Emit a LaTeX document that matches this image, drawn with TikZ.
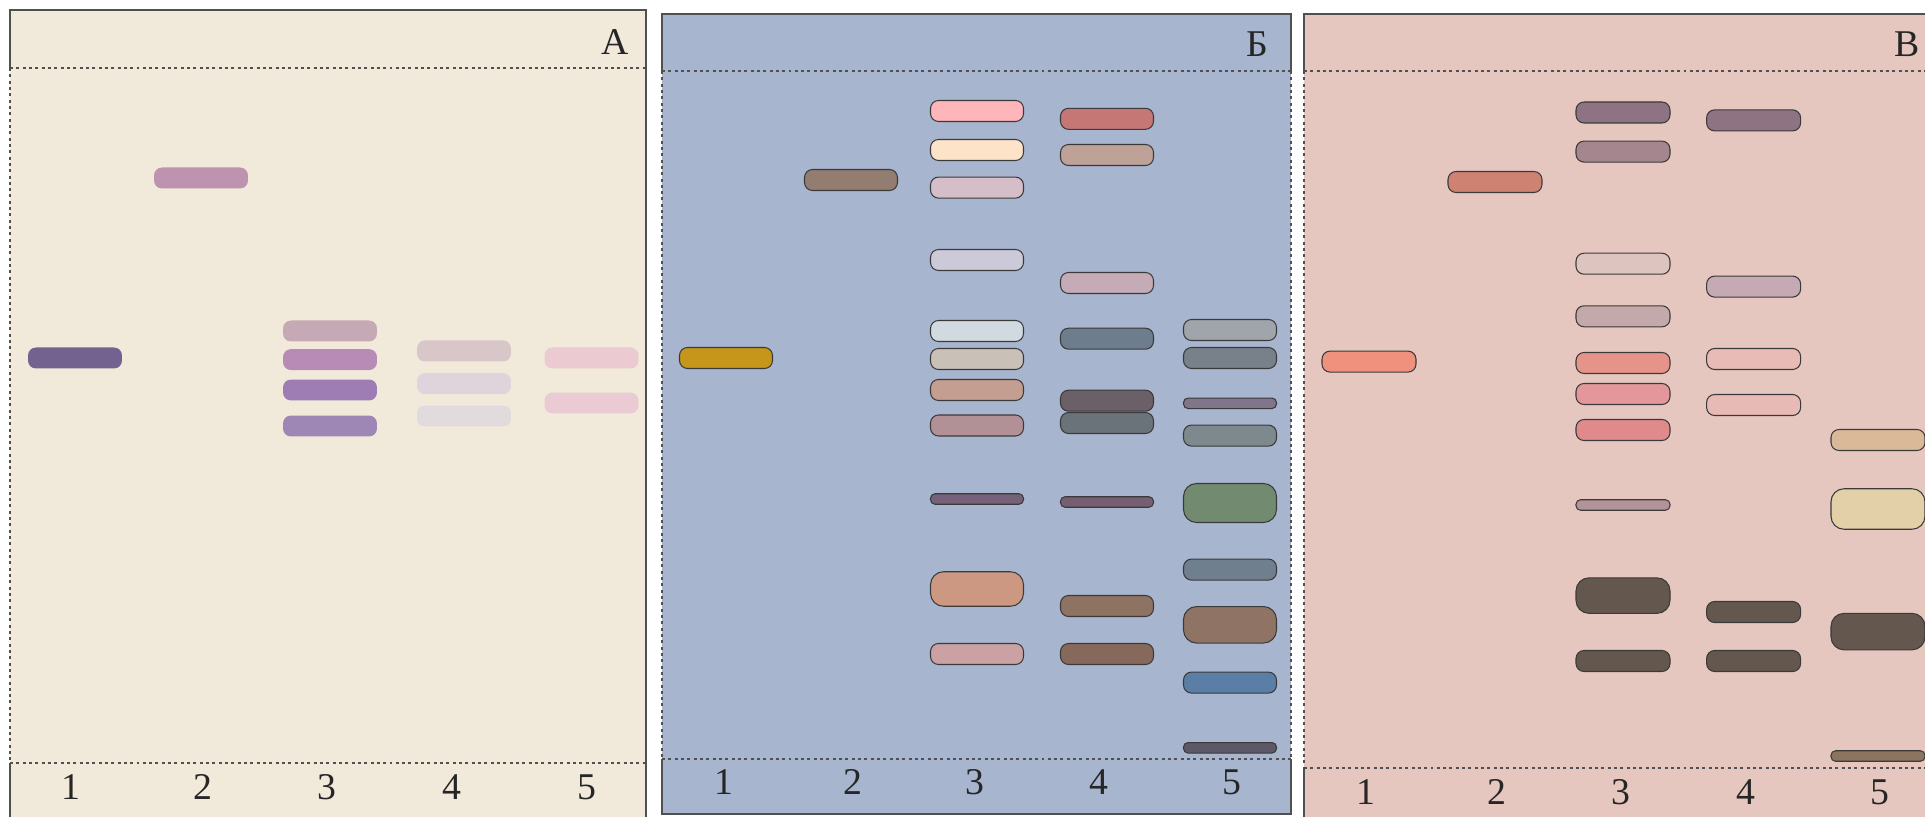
\documentclass[tikz,border=0pt]{standalone}
\usepackage{fontspec}
\setmainfont{Liberation Serif}
% backgrounds and lines
\definecolor{bgA}{HTML}{F1E9DA}
\definecolor{bgB}{HTML}{A8B5CF}
\definecolor{bgV}{HTML}{E5C7C0}
\definecolor{framegray}{HTML}{505050}
\definecolor{bandline}{HTML}{3A3A3A}
% panel A
\definecolor{cAa}{HTML}{736290}
\definecolor{cAb}{HTML}{BE93AF}
\definecolor{cAca}{HTML}{C5A9B4}
\definecolor{cAcb}{HTML}{B78BB6}
\definecolor{cAcc}{HTML}{9E7DB4}
\definecolor{cAcd}{HTML}{9F87B5}
\definecolor{cAda}{HTML}{D8C6C8}
\definecolor{cAdb}{HTML}{DFD4DC}
\definecolor{cAdc}{HTML}{E1DBDE}
\definecolor{cAea}{HTML}{EBCAD2}
\definecolor{cAeb}{HTML}{EBCBD3}
% panel B
\definecolor{cBa}{HTML}{C5961A}
\definecolor{cBb}{HTML}{937D70}
\definecolor{cBca}{HTML}{FFB6BA}
\definecolor{cBcb}{HTML}{FDE4C8}
\definecolor{cBcc}{HTML}{D5BEC8}
\definecolor{cBcd}{HTML}{CCC9D9}
\definecolor{cBce}{HTML}{D1DAE0}
\definecolor{cBcf}{HTML}{C9C1B8}
\definecolor{cBcg}{HTML}{C39E91}
\definecolor{cBch}{HTML}{B19096}
\definecolor{cBci}{HTML}{766278}
\definecolor{cBcj}{HTML}{CC9882}
\definecolor{cBck}{HTML}{CBA1A3}
\definecolor{cBda}{HTML}{C57775}
\definecolor{cBdb}{HTML}{BFA297}
\definecolor{cBdc}{HTML}{C5ABB5}
\definecolor{cBdd}{HTML}{6E7D8D}
\definecolor{cBde}{HTML}{6B5F68}
\definecolor{cBdf}{HTML}{6B737A}
\definecolor{cBdg}{HTML}{765F73}
\definecolor{cBdh}{HTML}{8E7262}
\definecolor{cBdi}{HTML}{86695A}
\definecolor{cBea}{HTML}{A0A4AB}
\definecolor{cBeb}{HTML}{78808A}
\definecolor{cBec}{HTML}{7F7689}
\definecolor{cBed}{HTML}{7E898D}
\definecolor{cBee}{HTML}{728A6F}
\definecolor{cBef}{HTML}{6F7F8E}
\definecolor{cBeg}{HTML}{8F7466}
\definecolor{cBeh}{HTML}{5B7EA6}
\definecolor{cBei}{HTML}{5C5866}
% panel V
\definecolor{cVa}{HTML}{F0917E}
\definecolor{cVb}{HTML}{CE8272}
\definecolor{cVca}{HTML}{8E7482}
\definecolor{cVcb}{HTML}{A6868E}
\definecolor{cVcc}{HTML}{DEC4BE}
\definecolor{cVcd}{HTML}{C4A9AA}
\definecolor{cVce}{HTML}{E6938A}
\definecolor{cVcf}{HTML}{E4979A}
\definecolor{cVcg}{HTML}{E08A8C}
\definecolor{cVch}{HTML}{B39397}
\definecolor{cVdark}{HTML}{64574D}
\definecolor{cVdb}{HTML}{C5AAB4}
\definecolor{cVdc}{HTML}{E9BBB6}
\definecolor{cVdd}{HTML}{E8BAB5}
\definecolor{cVea}{HTML}{D9B998}
\definecolor{cVeb}{HTML}{E4D0A8}
\definecolor{cVed}{HTML}{8B7560}
\begin{document}
\begin{tikzpicture}[x=0.02cm,y=-0.02cm,
  frame/.style={draw=framegray, line width=0.85pt},
  sidedots/.style={draw=framegray, line width=0.85pt, dash pattern=on 1.7pt off 1.9pt},
  rule/.style={draw=framegray, line width=0.85pt, dash pattern=on 1.7pt off 1.9pt},
  bandA/.style={rectangle, draw=none, rounded corners=0.16cm, minimum width=1.88cm, minimum height=0.42cm, inner sep=0pt},
  bandB/.style={rectangle, draw=bandline, line width=0.6pt, rounded corners=0.16cm, minimum width=1.86cm, minimum height=0.42cm, inner sep=0pt},
  bandV/.style={rectangle, draw=bandline, line width=0.6pt, rounded corners=0.16cm, minimum width=1.88cm, minimum height=0.42cm, inner sep=0pt},
  slim/.style={minimum height=0.21cm, rounded corners=0.09cm},
  fat/.style={minimum height=#1, rounded corners=0.26cm},
  lbl/.style={font=\fontsize{21.5}{24}\selectfont, inner sep=0pt, text=black!85},
]
\useasboundingbox (0,0) rectangle (1925,817);
\clip (0,0) rectangle (1925,817);

% ---------- panel A ----------
\fill[bgA] (10,10) rectangle (646,840);
\draw[frame] (10,68) -- (10,10) -- (646,10) -- (646,840);
\draw[sidedots] (10,68) -- (10,763);
\draw[frame] (10,763) -- (10,840);
\draw[rule] (10,68) -- (646,68);
\draw[rule] (10,763) -- (646,763);
\node[lbl] (tA) at (615,42) {А};
\node[lbl] (nA1) at (71,787) {1};
\node[lbl] (nA2) at (203,787) {2};
\node[lbl] (nA3) at (327,787) {3};
\node[lbl] (nA4) at (452,787) {4};
\node[lbl] (nA5) at (587,787) {5};

\node[bandA, fill=cAa] (a1) at (75,358) {};
\node[bandA, fill=cAb] (a2) at (201,178) {};
\node[bandA, fill=cAca] (a3a) at (330,331) {};
\node[bandA, fill=cAcb] (a3b) at (330,359.6) {};
\node[bandA, fill=cAcc] (a3c) at (330,390) {};
\node[bandA, fill=cAcd] (a3d) at (330,426) {};
\node[bandA, fill=cAda] (a4a) at (464,351) {};
\node[bandA, fill=cAdb] (a4b) at (464,383.6) {};
\node[bandA, fill=cAdc] (a4c) at (464,416) {};
\node[bandA, fill=cAea] (a5a) at (591.5,358) {};
\node[bandA, fill=cAeb] (a5b) at (591.5,403) {};

% ---------- panel B ----------
\fill[bgB] (662,14) rectangle (1291,814);
\draw[frame] (662,71) -- (662,14) -- (1291,14) -- (1291,71);
\draw[sidedots] (662,71) -- (662,759);
\draw[sidedots] (1291,71) -- (1291,759);
\draw[frame] (662,759) -- (662,814) -- (1291,814) -- (1291,759);
\draw[rule] (662,71) -- (1291,71);
\draw[rule] (662,759) -- (1291,759);
\node[lbl] (tB) at (1257,44) {Б};
\node[lbl] (nB1) at (724,782) {1};
\node[lbl] (nB2) at (853,782) {2};
\node[lbl] (nB3) at (975,782) {3};
\node[lbl] (nB4) at (1099,782) {4};
\node[lbl] (nB5) at (1232,782) {5};

\node[bandB, fill=cBa] (b1) at (726,358) {};
\node[bandB, fill=cBb] (b2) at (851,180) {};
\node[bandB, fill=cBca] (b3a) at (977,111) {};
\node[bandB, fill=cBcb] (b3b) at (977,150) {};
\node[bandB, fill=cBcc] (b3c) at (977,187.6) {};
\node[bandB, fill=cBcd] (b3d) at (977,260) {};
\node[bandB, fill=cBce] (b3e) at (977,331) {};
\node[bandB, fill=cBcf] (b3f) at (977,359) {};
\node[bandB, fill=cBcg] (b3g) at (977,390) {};
\node[bandB, fill=cBch] (b3h) at (977,425.5) {};
\node[bandB, slim, fill=cBci] (b3i) at (977,499) {};
\node[bandB, fat=0.69cm, fill=cBcj] (b3j) at (977,589) {};
\node[bandB, fill=cBck] (b3k) at (977,654) {};
\node[bandB, fill=cBda] (b4a) at (1107,118.8) {};
\node[bandB, fill=cBdb] (b4b) at (1107,155) {};
\node[bandB, fill=cBdc] (b4c) at (1107,283) {};
\node[bandB, fill=cBdd] (b4d) at (1107,338.7) {};
\node[bandB, fill=cBde] (b4e) at (1107,400.7) {};
\node[bandB, fill=cBdf] (b4f) at (1107,423) {};
\node[bandB, slim, fill=cBdg] (b4g) at (1107,502) {};
\node[bandB, fill=cBdh] (b4h) at (1107,606) {};
\node[bandB, fill=cBdi] (b4i) at (1107,654) {};
\node[bandB, fill=cBea] (b5a) at (1230,330) {};
\node[bandB, fill=cBeb] (b5b) at (1230,358) {};
\node[bandB, slim, fill=cBec] (b5c) at (1230,403.3) {};
\node[bandB, fill=cBed] (b5d) at (1230,435.6) {};
\node[bandB, fat=0.78cm, fill=cBee] (b5e) at (1230,503) {};
\node[bandB, fill=cBef] (b5f) at (1230,569.6) {};
\node[bandB, fat=0.73cm, fill=cBeg] (b5g) at (1230,624.8) {};
\node[bandB, fill=cBeh] (b5h) at (1230,682.6) {};
\node[bandB, slim, fill=cBei] (b5i) at (1230,747.8) {};

% ---------- panel V ----------
\fill[bgV] (1304,14) rectangle (1940,840);
\draw[frame] (1304,71) -- (1304,14) -- (1940,14);
\draw[sidedots] (1304,71) -- (1304,768);
\draw[frame] (1304,768) -- (1304,840);
\draw[rule] (1304,71) -- (1940,71);
\draw[rule] (1304,768) -- (1940,768);
\node[lbl] (tV) at (1907,44) {В};
\node[lbl] (nV1) at (1366,792) {1};
\node[lbl] (nV2) at (1497,792) {2};
\node[lbl] (nV3) at (1621,792) {3};
\node[lbl] (nV4) at (1746,792) {4};
\node[lbl] (nV5) at (1880,792) {5};

\node[bandV, fill=cVa] (v1) at (1369,361.6) {};
\node[bandV, fill=cVb] (v2) at (1495,182) {};
\node[bandV, fill=cVca] (v3a) at (1623,112.5) {};
\node[bandV, fill=cVcb] (v3b) at (1623,151.6) {};
\node[bandV, fill=cVcc] (v3c) at (1623,263.7) {};
\node[bandV, fill=cVcd] (v3d) at (1623,316.3) {};
\node[bandV, fill=cVce] (v3e) at (1623,363) {};
\node[bandV, fill=cVcf] (v3f) at (1623,394) {};
\node[bandV, fill=cVcg] (v3g) at (1623,430) {};
\node[bandV, slim, fill=cVch] (v3h) at (1623,505) {};
\node[bandV, fat=0.71cm, fill=cVdark] (v3i) at (1623,595.6) {};
\node[bandV, fill=cVdark] (v3j) at (1623,661) {};
\node[bandV, fill=cVca] (v4a) at (1753.6,120.4) {};
\node[bandV, fill=cVdb] (v4b) at (1753.6,286.6) {};
\node[bandV, fill=cVdc] (v4c) at (1753.6,359) {};
\node[bandV, fill=cVdd] (v4d) at (1753.6,405) {};
\node[bandV, fill=cVdark] (v4e) at (1753.6,612) {};
\node[bandV, fill=cVdark] (v4f) at (1753.6,661) {};
\node[bandV, fill=cVea] (v5a) at (1878,440) {};
\node[bandV, fat=0.81cm, fill=cVeb] (v5b) at (1878,509) {};
\node[bandV, fat=0.73cm, fill=cVdark] (v5c) at (1878,631.6) {};
\node[bandV, slim, fill=cVed] (v5d) at (1878,756) {};
\end{tikzpicture}
\end{document}
